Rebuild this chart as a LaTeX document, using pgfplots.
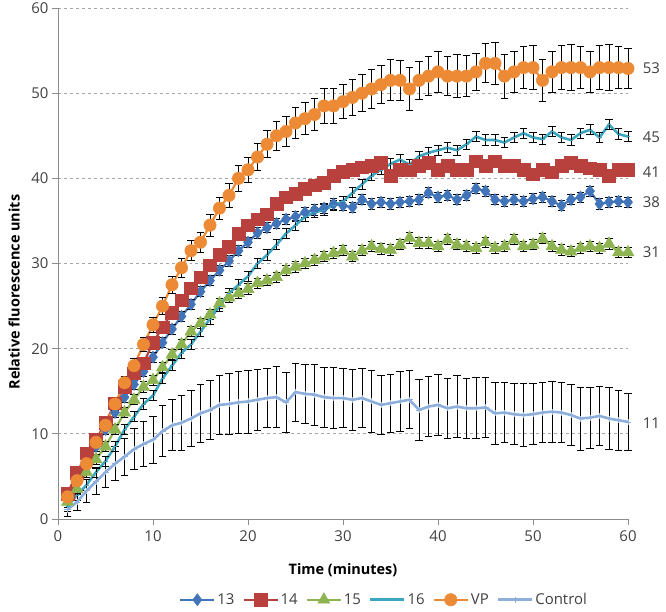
\documentclass[border=0pt]{standalone}
\usepackage{pgfplots}
\pgfplotsset{compat=1.18}
\usepackage{pgfplotstable}
\usepackage{fontspec}
\setmainfont{Open Sans}
\definecolor{cA}{HTML}{4174B8}
\definecolor{cB}{HTML}{B8403D}
\definecolor{cC}{HTML}{8DB450}
\definecolor{cD}{HTML}{3AA6C0}
\definecolor{cE}{HTML}{EC8A35}
\definecolor{cF}{HTML}{8EAEDB}
\definecolor{txt}{HTML}{404040}
\definecolor{axc}{HTML}{8C8C8C}
\pgfplotstableread{
t s13 s14 s15 s16 vp vpe ctl ctle
1 2.5 3 2 1.5 2.6 0.4 1.1 0.8
2 4.5 5.4 3.5 2.8 4.5 0.5 2 1.0
3 6.5 7.7 5.5 4 6.5 0.5 3.3 1.3
4 8.5 9.3 7 5.5 9 0.6 4.4 1.5
5 10.5 11.3 8.5 6.8 11 0.6 5.5 1.8
6 12.5 13.6 10.5 8.5 13.5 0.7 6.5 2.0
7 14.3 15.5 12.5 10.5 16 0.7 7.3 2.2
8 15.8 17.1 14 12 18 0.8 8.2 2.4
9 17.3 18.3 15.5 13.5 20.5 0.8 8.8 2.6
10 19 20.7 16.3 14.5 22.8 0.9 9.3 2.8
11 20.7 22.5 17.8 16.5 25 1.0 10.3 3.0
12 22.3 24.2 19.3 18 27.5 1.0 11 3.0
13 23.8 25.7 20.5 19.5 29.5 1.1 11.3 3.2
14 25.2 27.1 22 20.5 31.5 1.2 11.8 3.3
15 26.7 28.4 23 22 32.5 1.2 12.4 3.4
16 28 29.8 24 23.5 34.5 1.3 12.8 3.5
17 29.2 31 25.3 25 36.5 1.3 13.4 3.5
18 30.3 32 26 26.5 38 1.4 13.5 3.6
19 31.5 33.5 26.5 27.5 40 1.5 13.7 3.6
20 32.5 34.5 27 28.5 41 1.5 13.8 3.7
21 33.6 35.2 27.7 30 42.5 1.6 14 3.6
22 34.2 35.8 28 31 44 1.6 14.2 3.5
23 34.7 37 28.4 32.2 45 1.7 14.3 3.6
24 35.2 37.8 29.2 33.5 45.5 1.8 13.7 3.5
25 35.5 38.2 29.6 34.5 46.5 1.8 14.9 3.4
26 36 38.8 30 35.5 47 1.9 14.7 3.5
27 36.3 39.2 30.4 36 47.5 1.9 14.6 3.6
28 36.5 39.5 30.8 36.3 48.5 2.0 14.3 3.5
29 37 40.3 31.2 36.8 48.5 2.0 14.2 3.6
30 36.8 40.8 31.5 37.3 49 2.0 14.2 3.5
31 36.6 41 30.8 38.3 49.5 2.1 14 3.6
32 37.5 41.3 31.5 39.3 50 2.2 14.2 3.5
33 37 41.5 32 40.3 50.5 2.3 13.8 3.6
34 37.2 41.8 31.7 41 51 2.2 13.4 3.5
35 37 40.3 31.6 41.7 51.5 2.4 13.6 3.4
36 37.2 41 32.2 42.2 51.5 2.3 13.8 3.5
37 37.3 41 33 41.6 50.5 2.5 14 3.4
38 37.5 41.5 32.4 42.6 51.5 2.2 12.8 3.6
39 38.3 41.8 32.4 43 52 2.3 13.2 3.5
40 37.8 41 32 43.3 52.5 2.4 13.4 3.6
41 38 41.5 32.8 43.6 52 2.3 13 3.5
42 37.5 41 32.2 43.3 52 2.5 13.2 3.6
43 38 41 32 44 52 2.4 13 3.5
44 38.8 42 31.8 44.9 52.5 2.2 13 3.6
45 38.5 41.5 32.5 44.5 53.5 2.3 13.1 3.5
46 37.5 42 31.8 44.5 53.5 2.5 12.4 3.6
47 37.3 41.5 32 44.2 52 2.6 12.5 3.5
48 37.5 41.5 32.8 44.8 52.5 2.4 12.3 3.6
49 37.3 41 32 45.3 53 2.5 12.2 3.7
50 37.6 40.5 32.2 44.8 53 2.6 12.3 3.6
51 37.8 41 32.9 44.6 51.5 2.5 12.5 3.5
52 37.3 40.7 32 45.5 52.5 2.4 12.6 3.6
53 36.8 41.5 31.6 44.8 53 2.6 12.5 3.5
54 37.5 41.8 31.4 44.5 53 2.7 12.2 3.6
55 37.8 41.5 31.8 45.3 53 2.5 11.8 3.7
56 38.5 41.2 32 45.7 52.5 2.4 11.9 3.6
57 37 41 31.8 44.8 53 2.6 12.1 3.5
58 37.2 40.3 32.3 46.3 53 2.7 11.8 3.6
59 37.3 41 31.3 45.2 53 2.5 11.6 3.5
60 37.2 41 31.3 44.9 52.9 2.4 11.4 3.4
}\data
\begin{document}
\begin{tikzpicture}
\path[use as bounding box] (-58bp,-93bp) rectangle (608bp,519bp);
\begin{axis}[
  at={(0,0)}, anchor=south west,
  scale only axis, width=570bp, height=511bp,
  xmin=0, xmax=60, ymin=0, ymax=60,
  xtick={0,10,...,60}, ytick={0,10,...,60},
  axis x line*=bottom, axis y line*=left,
  axis line style={axc, line width=1pt, -},
  tick style={axc, line width=0.8pt},
  tick align=outside, major tick length=6bp,
  ymajorgrids, major grid style={gray!70, dashed, line width=0.8pt},
  /pgf/number format/assume math mode=true,
  tick label style={font=\fontsize{15}{17}\selectfont, text=txt},
  xticklabel style={yshift=-2bp},
  xlabel={\textbf{Time (minutes)}},
  ylabel={\textbf{Relative fluorescence units}},
  label style={font=\fontsize{14.5}{16}\selectfont, text=black},
  xlabel style={at={(axis description cs:0.5,-0.1)}, anchor=center},
  ylabel style={at={(axis description cs:-0.077,0.444)}, anchor=center},
  clip=false,
  legend columns=6,
  legend style={at={(axis description cs:0.572,-0.158)}, anchor=center, draw=none,
    font=\fontsize{15}{17}\selectfont, text=txt,
    /tikz/every even column/.append style={column sep=6bp}},
  legend image code/.code={\draw[mark repeat=2,mark phase=2] plot coordinates {(0bp,0bp)(17bp,0bp)(34bp,0bp)};},
  error bars/error bar style={black, line width=0.9pt},
  error bars/error mark options={rotate=90, mark size=3.8bp, line width=0.9pt, black},
]
\addplot[cA, line width=2.2pt, mark=diamond*, mark size=6bp, mark options={fill=cA, draw=cA, line width=0.5pt},
  error bars/.cd, y dir=both, y fixed=0.6]
  table[x=t, y=s13] {\data};
\addlegendentry{13}
\addplot[cB, line width=2.2pt, mark=square*, mark size=6.3bp, mark options={fill=cB, draw=cB, line width=0.5pt},
  error bars/.cd, y dir=both, y fixed=0.6]
  table[x=t, y=s14] {\data};
\addlegendentry{14}
\addplot[cC, line width=2.2pt, mark=triangle*, mark size=7bp, mark options={fill=cC, draw=cC, line width=0.5pt},
  error bars/.cd, y dir=both, y fixed=0.6]
  table[x=t, y=s15] {\data};
\addlegendentry{15}
\addplot[cD, line width=2.6pt, mark=-, mark size=2bp, mark options={draw=cD, line width=0.5pt},
  error bars/.cd, y dir=both, y fixed=0.6]
  table[x=t, y=s16] {\data};
\addlegendentry{16}
\addplot[cE, line width=2.2pt, mark=*, mark size=6.2bp, mark options={fill=cE, draw=cE, line width=0.5pt},
  error bars/.cd, y dir=both, y explicit]
  table[x=t, y=vp, y error=vpe] {\data};
\addlegendentry{VP}
\addplot[cF, line width=2.6pt, mark=+, mark size=3bp, mark options={draw=cF, line width=0.8pt},
  error bars/.cd, y dir=both, y explicit]
  table[x=t, y=ctl, y error=ctle] {\data};
\addlegendentry{Control}
\node[anchor=west, font=\fontsize{15}{17}\selectfont, text=txt] at (axis cs:61.2,52.9) {53};
\node[anchor=west, font=\fontsize{15}{17}\selectfont, text=txt] at (axis cs:61.2,44.8) {45};
\node[anchor=west, font=\fontsize{15}{17}\selectfont, text=txt] at (axis cs:61.2,40.7) {41};
\node[anchor=west, font=\fontsize{15}{17}\selectfont, text=txt] at (axis cs:61.2,37.2) {38};
\node[anchor=west, font=\fontsize{15}{17}\selectfont, text=txt] at (axis cs:61.2,31.3) {31};
\node[anchor=west, font=\fontsize{15}{17}\selectfont, text=txt] at (axis cs:61.2,11.3) {11};
\end{axis}
\end{tikzpicture}
\end{document}
